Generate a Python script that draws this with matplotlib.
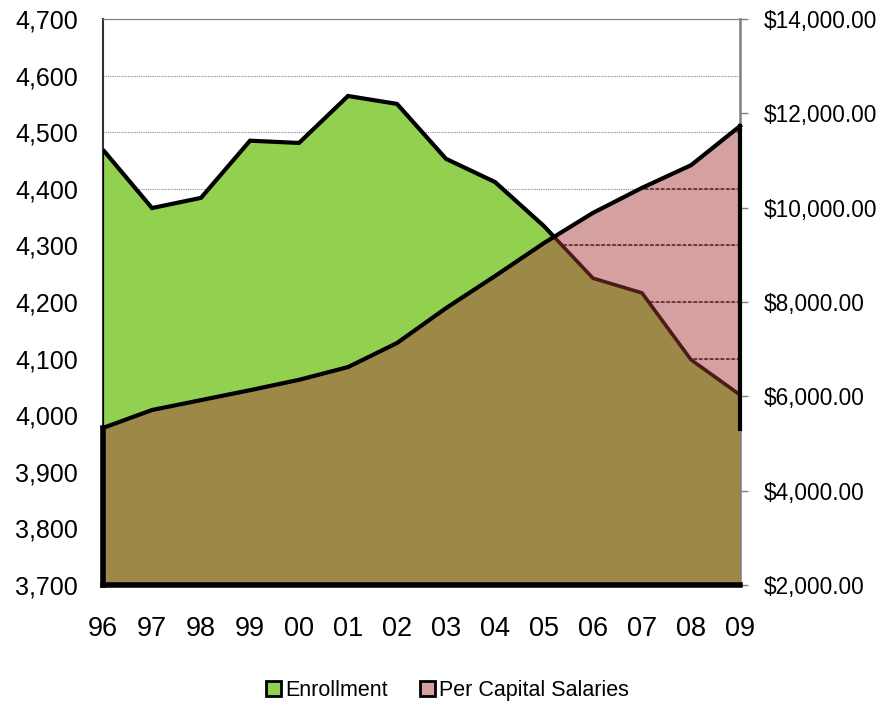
import numpy as np
import matplotlib
matplotlib.use("Agg")
import matplotlib.pyplot as plt
from matplotlib.patches import PathPatch, Patch
from matplotlib.ticker import FuncFormatter

plt.rcParams['font.family'] = ['Liberation Sans', 'DejaVu Sans']

years = ['96', '97', '98', '99', '00', '01', '02', '03', '04', '05', '06', '07', '08', '09']
enrollment = [4469, 4366, 4384, 4485, 4481, 4564, 4550, 4453, 4412, 4334, 4242, 4216, 4098, 4036]
salaries = [5330, 5710, 5920, 6130, 6350, 6620, 7130, 7870, 8550, 9250, 9890, 10420, 10900, 11730]

green = '#92D050'
pink = '#D4A1A0'
olive = '#9C8947'
maroon = '#4D1A1A'

fig = plt.figure(figsize=(8.81, 7.05), dpi=100)
ax = fig.add_axes([103 / 881, 120 / 705, 637 / 881, 566 / 705])
ax2 = ax.twinx()

# salaries axis underneath, enrollment axis on top
ax.set_zorder(2)
ax.patch.set_visible(False)
ax2.set_zorder(1)
ax2.patch.set_visible(True)
ax2.patch.set_facecolor('white')

x = np.arange(len(years))
ax.set_xlim(0, len(years) - 1)
ax.set_ylim(3700, 4700)
ax2.set_ylim(2000, 14000)

# pink salary area
pinkArea = ax2.fill_between(x, 2000, salaries, facecolor=pink, edgecolor='none', zorder=1)
pinkPath = pinkArea.get_paths()[0]

# grid lines
yticks = np.arange(3700, 4701, 100)
ax.set_yticks(yticks)
for yt in yticks[1:-1]:
    ax.axhline(yt, color='#8a8a8a', lw=0.8, ls=(0, (1, 1)), zorder=0.5)
    darkLine = ax.axhline(yt, color='#6a2c2c', lw=1.3, ls=(0, (2, 1)), zorder=0.6)
    darkLine.set_clip_path(pinkPath, ax2.transData)

# green enrollment area
greenArea = ax.fill_between(x, 3700, enrollment, facecolor=green, edgecolor='none', zorder=1)

# overlap of both areas
overlap = PathPatch(pinkPath, transform=ax2.transData, facecolor=olive, edgecolor='none', zorder=2)
ax.add_patch(overlap)
overlap.set_clip_path(greenArea.get_paths()[0], ax.transData)

# where the lines cross
pts = ax2.transData.transform(np.column_stack([x, salaries]))
salLeft = ax.transData.inverted().transform(pts)[:, 1]
diff = np.array(enrollment) - salLeft
k = int(np.where((diff[:-1] > 0) & (diff[1:] <= 0))[0][0])
t = diff[k] / (diff[k] - diff[k + 1])
xc = k + t
yc = enrollment[k] + t * (enrollment[k + 1] - enrollment[k])

ax.plot(list(x[:k + 1]) + [xc], enrollment[:k + 1] + [yc], color='black', lw=3, zorder=4,
        solid_joinstyle='miter', solid_capstyle='butt')
ax.plot([xc] + list(x[k + 1:]), [yc] + enrollment[k + 1:], color=maroon, lw=2.6, zorder=4,
        solid_joinstyle='miter', solid_capstyle='butt')
ax.plot([0, 0], [3700, enrollment[0]], color='black', lw=1.5, zorder=4)

# salary outline
salX = [0] + list(x) + [x[-1]]
salY = [2000] + salaries + [2000]
ax.plot(salX[1:-1], salY[1:-1], color='black', lw=3, zorder=5, transform=ax2.transData,
        solid_joinstyle='miter', clip_on=False)
ax.plot([0, 0], [2000, salaries[0]], color='black', lw=4, zorder=5, transform=ax2.transData, clip_on=False)
ax.plot([x[-1], x[-1]], [salaries[-1], 5300], color='black', lw=3, zorder=5, transform=ax2.transData,
        clip_on=False)
ax.plot([0, x[-1]], [2000, 2000], color='black', lw=4, zorder=5, transform=ax2.transData, clip_on=False)

# axes styling
for s in ['top', 'right']:
    ax.spines[s].set_color('#808080')
    ax2.spines[s].set_color('#808080')
ax.spines['left'].set_color('#303030')
ax.spines['left'].set_linewidth(1.5)
ax2.spines['left'].set_visible(False)
ax.spines['bottom'].set_color('black')
ax2.spines['bottom'].set_visible(False)
ax2.spines['right'].set_linewidth(1.8)

ax.set_xticks(x)
ax.set_xticklabels(years)
ax.tick_params(axis='x', length=0, pad=22, labelsize=19.5)
ax.tick_params(axis='y', length=0, pad=18, labelsize=18)
ax.yaxis.set_major_formatter(FuncFormatter(lambda v, p: f'{int(v):,}'))

ax2.set_yticks(np.arange(2000, 14001, 2000))
ax2.yaxis.set_major_formatter(FuncFormatter(lambda v, p: f'${v:,.2f}'))
ax2.tick_params(axis='y', length=6, width=1, color='#808080', direction='out', pad=11, labelsize=16.3)

handles = [Patch(facecolor=green, edgecolor='black', lw=2),
           Patch(facecolor=pink, edgecolor='black', lw=2)]
fig.legend(handles, ['Enrollment', 'Per Capital Salaries'], loc='center', bbox_to_anchor=(0.508, 0.021),
           ncol=2, frameon=False, fontsize=15.5, handlelength=0.7, handleheight=0.7,
           handletextpad=0.2, columnspacing=1.5)

fig.savefig('out.png', dpi=100)
